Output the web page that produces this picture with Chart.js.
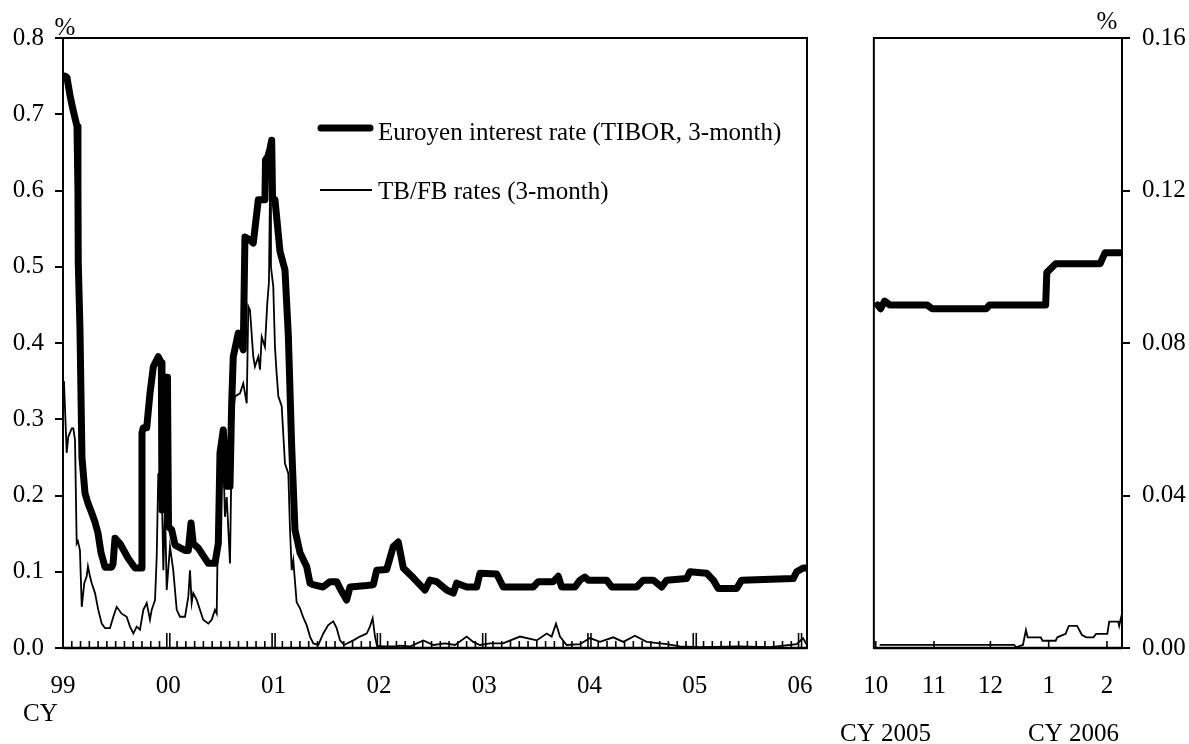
<!DOCTYPE html>
<html>
<head>
<meta charset="utf-8">
<script src="https://cdn.jsdelivr.net/npm/chart.js@4.4.1/dist/chart.umd.min.js"></script>
<style>
  html, body { margin: 0; padding: 0; background: #fff; }
  #wrap  { position: relative; width: 1189px; height: 744px; }
  #left  { position: absolute; left: 0; top: 0; width: 840px; height: 744px; }
  #right { position: absolute; left: 840px; top: 0; width: 349px; height: 744px; }
</style>
</head>
<body>
<div id="wrap">
  <div id="left"><canvas id="chart-long"></canvas></div>
  <div id="right"><canvas id="chart-recent"></canvas></div>
</div>
<script>
// left panel: CY1999 - early 2006, x in decimal years
const yearLabels = ['99', '00', '01', '02', '03', '04', '05', '06'];

const tiborYears = [
  1999.019, 1999.038, 1999.066, 1999.095, 1999.133, 1999.142, 1999.145, 1999.161, 1999.180, 1999.209,
  1999.237, 1999.273, 1999.304, 1999.332, 1999.361, 1999.399, 1999.462, 1999.475, 1999.494, 1999.541,
  1999.617, 1999.684, 1999.747, 1999.750, 1999.763, 1999.795, 1999.826, 1999.858, 1999.905, 1999.934,
  1999.940, 1999.959, 1999.969, 1999.992, 2000.002, 2000.032, 2000.064, 2000.159, 2000.190, 2000.216,
  2000.237, 2000.285, 2000.380, 2000.443, 2000.475, 2000.491, 2000.522, 2000.555, 2000.586, 2000.602,
  2000.617, 2000.665, 2000.712, 2000.728, 2000.776, 2000.807, 2000.855, 2000.902, 2000.918, 2000.923,
  2000.947, 2000.966, 2000.982, 2000.990, 2001.013, 2001.061, 2001.108, 2001.140, 2001.172, 2001.203,
  2001.251, 2001.314, 2001.346, 2001.374, 2001.469, 2001.536, 2001.599, 2001.631, 2001.694, 2001.726,
  2001.884, 2001.947, 2001.979, 2002.074, 2002.137, 2002.184, 2002.232, 2002.327, 2002.438, 2002.485,
  2002.549, 2002.644, 2002.707, 2002.739, 2002.834, 2002.929, 2002.960, 2003.119, 2003.181, 2003.466,
  2003.514, 2003.656, 2003.704, 2003.736, 2003.862, 2003.910, 2003.957, 2003.989, 2004.163, 2004.211,
  2004.448, 2004.511, 2004.606, 2004.686, 2004.733, 2004.923, 2004.954, 2005.113, 2005.176, 2005.223,
  2005.398, 2005.445, 2005.935, 2005.968, 2006.030, 2006.061
];
const tiborValues = [
  0.750, 0.748, 0.725, 0.706, 0.684, 0.600, 0.505, 0.420, 0.250, 0.203,
  0.190, 0.177, 0.165, 0.151, 0.125, 0.106, 0.106, 0.110, 0.144, 0.137,
  0.118, 0.105, 0.105, 0.282, 0.289, 0.289, 0.334, 0.369, 0.382, 0.374,
  0.181, 0.300, 0.355, 0.355, 0.159, 0.155, 0.135, 0.128, 0.128, 0.164,
  0.137, 0.131, 0.111, 0.111, 0.137, 0.256, 0.286, 0.212, 0.212, 0.321,
  0.382, 0.413, 0.391, 0.539, 0.535, 0.531, 0.588, 0.588, 0.588, 0.640,
  0.645, 0.655, 0.666, 0.590, 0.588, 0.520, 0.496, 0.410, 0.264, 0.155,
  0.125, 0.107, 0.085, 0.083, 0.080, 0.087, 0.087, 0.078, 0.063, 0.080,
  0.082, 0.083, 0.102, 0.103, 0.133, 0.139, 0.105, 0.092, 0.076, 0.089,
  0.087, 0.076, 0.072, 0.085, 0.080, 0.080, 0.098, 0.097, 0.080, 0.080,
  0.087, 0.087, 0.094, 0.080, 0.080, 0.089, 0.093, 0.089, 0.089, 0.080,
  0.080, 0.089, 0.089, 0.080, 0.089, 0.091, 0.100, 0.098, 0.089, 0.078,
  0.078, 0.089, 0.091, 0.100, 0.105, 0.105
];

const tbfbYears = [
  1999.009, 1999.035, 1999.050, 1999.083, 1999.098, 1999.114, 1999.130, 1999.142, 1999.161, 1999.178,
  1999.202, 1999.225, 1999.237, 1999.256, 1999.273, 1999.304, 1999.335, 1999.368, 1999.399, 1999.446,
  1999.478, 1999.510, 1999.557, 1999.605, 1999.636, 1999.668, 1999.700, 1999.731, 1999.763, 1999.795,
  1999.826, 1999.842, 1999.874, 1999.890, 1999.905, 1999.921, 1999.937, 1999.953, 1999.969, 1999.985,
  2000.016, 2000.047, 2000.080, 2000.111, 2000.159, 2000.190, 2000.206, 2000.222, 2000.237, 2000.270,
  2000.301, 2000.332, 2000.380, 2000.412, 2000.443, 2000.460, 2000.475, 2000.491, 2000.507, 2000.522,
  2000.538, 2000.555, 2000.586, 2000.602, 2000.617, 2000.633, 2000.681, 2000.712, 2000.745, 2000.760,
  2000.776, 2000.807, 2000.823, 2000.855, 2000.871, 2000.887, 2000.918, 2000.940, 2000.956, 2000.966,
  2000.975, 2000.997, 2001.013, 2001.029, 2001.045, 2001.077, 2001.108, 2001.140, 2001.156, 2001.172,
  2001.187, 2001.219, 2001.251, 2001.282, 2001.314, 2001.346, 2001.377, 2001.425, 2001.472, 2001.519,
  2001.567, 2001.599, 2001.631, 2001.669, 2001.757, 2001.820, 2001.884, 2001.915, 2001.941, 2001.963,
  2001.982, 2002.039, 2002.153, 2002.200, 2002.295, 2002.422, 2002.517, 2002.628, 2002.723, 2002.834,
  2002.896, 2002.960, 2003.055, 2003.179, 2003.340, 2003.499, 2003.594, 2003.641, 2003.682, 2003.720,
  2003.783, 2003.910, 2004.005, 2004.100, 2004.226, 2004.321, 2004.432, 2004.543, 2004.733, 2004.859,
  2005.049, 2005.429, 2005.714, 2005.968, 2006.028, 2006.061
];
const tbfbValues = [
  0.350, 0.256, 0.277, 0.288, 0.288, 0.273, 0.137, 0.140, 0.128, 0.054,
  0.085, 0.094, 0.107, 0.094, 0.085, 0.072, 0.050, 0.032, 0.026, 0.026,
  0.041, 0.054, 0.045, 0.041, 0.028, 0.019, 0.028, 0.024, 0.050, 0.059,
  0.037, 0.050, 0.063, 0.120, 0.229, 0.190, 0.220, 0.102, 0.185, 0.076,
  0.133, 0.102, 0.050, 0.041, 0.041, 0.067, 0.102, 0.059, 0.072, 0.063,
  0.050, 0.037, 0.032, 0.037, 0.050, 0.045, 0.198, 0.251, 0.286, 0.256,
  0.172, 0.198, 0.111, 0.264, 0.308, 0.330, 0.334, 0.347, 0.321, 0.448,
  0.443, 0.382, 0.369, 0.382, 0.365, 0.408, 0.395, 0.452, 0.480, 0.600,
  0.500, 0.474, 0.395, 0.360, 0.330, 0.317, 0.242, 0.229, 0.155, 0.102,
  0.115, 0.060, 0.052, 0.040, 0.030, 0.015, 0.006, 0.004, 0.019, 0.030,
  0.035, 0.026, 0.010, 0.004, 0.010, 0.015, 0.019, 0.028, 0.039, 0.015,
  0.003, 0.002, 0.002, 0.003, 0.002, 0.010, 0.004, 0.006, 0.004, 0.015,
  0.008, 0.004, 0.006, 0.006, 0.015, 0.010, 0.019, 0.015, 0.032, 0.015,
  0.004, 0.005, 0.013, 0.008, 0.014, 0.008, 0.016, 0.008, 0.005, 0.002,
  0.001, 0.002, 0.001, 0.005, 0.013, 0.005
];

// right panel: Oct 2005 - Feb 2006, x in days since 1 Oct 2005
const monthLabels = ['10', '11', '12', '1', '2'];
const monthDays   = [0, 31, 61, 92, 123];

const recentTiborDays   = [1.0, 2.6, 4.7, 7.4, 27.3, 30.0, 58.9, 60.5, 90.4, 91.0, 95.7, 119.4, 122.0, 130.5];
const recentTiborValues = [0.0900, 0.0890, 0.0910, 0.0900, 0.0900, 0.0890, 0.0890, 0.0900, 0.0900, 0.0985, 0.1008, 0.1008, 0.1037, 0.1037];

const recentTbfbDays   = [2.1, 73.6, 74.7, 78.3, 79.9, 80.8, 87.8, 88.7, 95.7, 96.6, 101.0, 102.7, 107.1, 109.7, 112.0, 115.8, 117.2, 123.2, 124.2, 129.0, 129.5, 130.8];
const recentTbfbValues = [0.0008, 0.0008, 0.0002, 0.0008, 0.0047, 0.0028, 0.0028, 0.0019, 0.0019, 0.0028, 0.0037, 0.0058, 0.0058, 0.0034, 0.0028, 0.0028, 0.0037, 0.0037, 0.0069, 0.0069, 0.0058, 0.0087];

const leftTicks  = [0, 0.1, 0.2, 0.3, 0.4, 0.5, 0.6, 0.7, 0.8];
const rightTicks = [0, 0.04, 0.08, 0.12, 0.16];

const SERIF = '"Liberation Serif", "Times New Roman", serif';
Chart.defaults.font.family = SERIF;
Chart.defaults.font.size = 25;
Chart.defaults.color = '#000';

function pts(xs, ys) { return xs.map((x, i) => ({ x, y: ys[i] })); }

function thick(data) {
  return { data, borderColor: '#000', borderWidth: 7, borderJoinStyle: 'round', borderCapStyle: 'round', pointRadius: 0, tension: 0 };
}
function thin(data) {
  return { data, borderColor: '#000', borderWidth: 1.8, pointRadius: 0, tension: 0 };
}

// frame + inward month ticks
function drawFrame(chart, monthValues, tallValues) {
  const { ctx, chartArea: a, scales: { x } } = chart;
  ctx.save();
  ctx.strokeStyle = '#000';
  ctx.lineWidth = 2;
  ctx.strokeRect(a.left, a.top, a.right - a.left, a.bottom - a.top);
  ctx.lineWidth = 1.6;
  ctx.beginPath();
  monthValues.forEach(v => {
    const px = x.getPixelForValue(v);
    if (px <= a.left + 1 || px >= a.right - 1) return;
    ctx.moveTo(px, a.bottom); ctx.lineTo(px, a.bottom - 7);
  });
  tallValues.forEach(v => {
    const px = x.getPixelForValue(v);
    if (px <= a.left + 1 || px >= a.right - 1) return;
    ctx.moveTo(px - 1.5, a.bottom); ctx.lineTo(px - 1.5, a.bottom - 15);
    ctx.moveTo(px + 1.5, a.bottom); ctx.lineTo(px + 1.5, a.bottom - 15);
  });
  ctx.stroke();
  ctx.lineWidth = 2.5;
  ctx.beginPath(); ctx.moveTo(a.left, a.bottom); ctx.lineTo(a.right, a.bottom); ctx.stroke();
  ctx.restore();
}

const longDecor = {
  id: 'longDecor',
  afterDatasetsDraw(chart) {
    const months = [], years = [];
    for (let y = 1999; y <= 2006; y++) {
      for (let m = 0; m < 12; m++) {
        const t = y + m / 12;
        if (t > chart.scales.x.max) break;
        (m === 0 ? years : months).push(t);
      }
    }
    drawFrame(chart, months, years);

    const ctx = chart.ctx;
    ctx.save();
    ctx.strokeStyle = '#000';
    ctx.lineCap = 'round';
    ctx.lineWidth = 7;
    ctx.beginPath(); ctx.moveTo(321, 128); ctx.lineTo(370, 128); ctx.stroke();
    ctx.lineCap = 'butt';
    ctx.lineWidth = 1.8;
    ctx.beginPath(); ctx.moveTo(320, 190); ctx.lineTo(372, 190); ctx.stroke();

    ctx.fillStyle = '#000';
    ctx.font = '25px ' + SERIF;
    ctx.textBaseline = 'alphabetic';
    ctx.textAlign = 'left';
    ctx.fillText(chart.data.datasets[0].label, 378, 140);
    ctx.fillText(chart.data.datasets[1].label, 378, 199);
    ctx.fillText('CY', 23, 721);
    ctx.textAlign = 'center';
    ctx.fillText('%', 65, 35);
    ctx.restore();
  }
};

const recentDecor = {
  id: 'recentDecor',
  afterDatasetsDraw(chart) {
    drawFrame(chart, monthDays, []);
    const ctx = chart.ctx;
    ctx.save();
    ctx.fillStyle = '#000';
    ctx.font = '25px ' + SERIF;
    ctx.textBaseline = 'alphabetic';
    ctx.textAlign = 'left';
    ctx.fillText('CY 2005', 0, 741);
    ctx.fillText('CY 2006', 188, 741);
    ctx.textAlign = 'center';
    ctx.fillText('%', 267, 29);
    ctx.restore();
  }
};

new Chart(document.getElementById('chart-long'), {
  type: 'line',
  data: {
    datasets: [
      { label: 'Euroyen interest rate (TIBOR, 3-month)', ...thick(pts(tiborYears, tiborValues)) },
      { label: 'TB/FB rates (3-month)', ...thin(pts(tbfbYears, tbfbValues)) },
    ]
  },
  options: {
    animation: false,
    responsive: true,
    maintainAspectRatio: false,
    devicePixelRatio: 1,
    layout: { padding: { left: 0, top: 38, right: 33, bottom: 0 } },
    plugins: { legend: { display: false }, tooltip: { enabled: false } },
    scales: {
      x: {
        type: 'linear', min: 1999, max: 2006.066,
        afterBuildTicks: s => { s.ticks = yearLabels.map((l, i) => ({ value: 1999 + i })); },
        afterFit: s => { s.height = 96; },
        grid: { display: false, drawTicks: false },
        border: { display: false },
        ticks: { autoSkip: false, maxRotation: 0, padding: 23, callback: (v, i) => yearLabels[i] },
      },
      y: {
        min: 0, max: 0.8,
        afterBuildTicks: s => { s.ticks = leftTicks.map(v => ({ value: v })); },
        afterFit: s => { s.width = 63; },
        grid: { drawOnChartArea: false, tickLength: 8, color: '#000', lineWidth: 2 },
        border: { display: false },
        ticks: { padding: 11, callback: v => v.toFixed(1) },
      },
    },
  },
  plugins: [longDecor],
});

new Chart(document.getElementById('chart-recent'), {
  type: 'line',
  data: {
    datasets: [
      { label: 'Euroyen', ...thick(pts(recentTiborDays, recentTiborValues)) },
      { label: 'TB/FB', ...thin(pts(recentTbfbDays, recentTbfbValues)) },
    ]
  },
  options: {
    animation: false,
    responsive: true,
    maintainAspectRatio: false,
    devicePixelRatio: 1,
    layout: { padding: { left: 31, top: 38, right: 0, bottom: 0 } },
    plugins: { legend: { display: false }, tooltip: { enabled: false } },
    scales: {
      x: {
        type: 'linear', min: -1, max: 131,
        afterBuildTicks: s => { s.ticks = monthDays.map(d => ({ value: d })); },
        afterFit: s => { s.height = 96; },
        grid: { display: false, drawTicks: false },
        border: { display: false },
        ticks: { autoSkip: false, maxRotation: 0, padding: 23, callback: (v, i) => monthLabels[i] },
      },
      y: {
        position: 'right',
        min: 0, max: 0.16,
        afterBuildTicks: s => { s.ticks = rightTicks.map(v => ({ value: v })); },
        afterFit: s => { s.width = 67; },
        grid: { drawOnChartArea: false, tickLength: 8, color: '#000', lineWidth: 2 },
        border: { display: false },
        ticks: { padding: 12, callback: v => v.toFixed(2) },
      },
    },
  },
  plugins: [recentDecor],
});
</script>
</body>
</html>
